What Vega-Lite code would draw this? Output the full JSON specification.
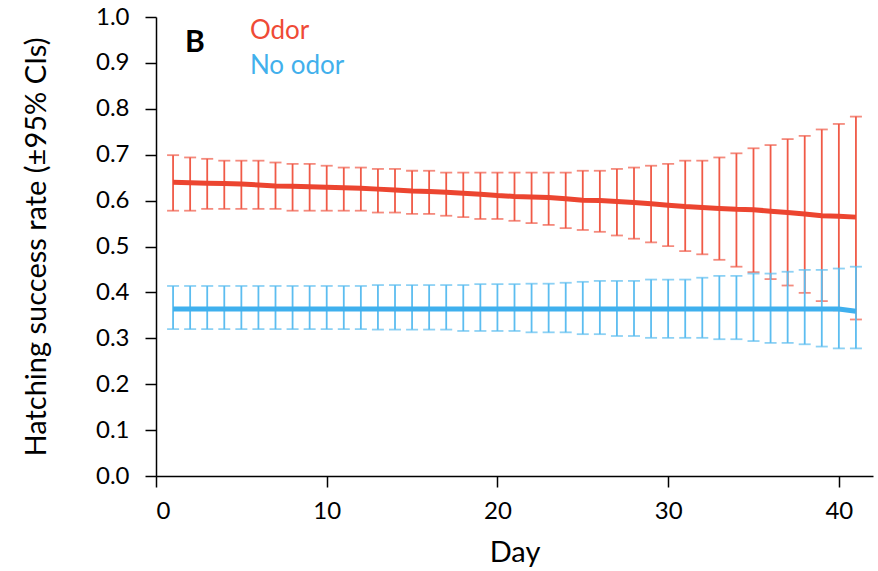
{
  "$schema": "https://vega.github.io/schema/vega-lite/v6.json",
  "width": 717,
  "height": 459,
  "autosize": {"type": "none"},
  "padding": {"left": 156, "top": 17, "right": 5, "bottom": 95},
  "background": "white",
  "config": {
    "view": {"stroke": null},
    "font": "Lato",
    "axis": {
      "grid": false,
      "domainColor": "#000000",
      "domainWidth": 1.5,
      "tickColor": "#000000",
      "tickWidth": 1.5,
      "tickSize": 11,
      "labelFont": "Lato",
      "labelFontSize": 24,
      "labelColor": "#000000",
      "titleFont": "Lato",
      "titleFontSize": 29,
      "titleFontWeight": "normal",
      "titleColor": "#000000"
    }
  },
  "datasets": {
    "ci": [
      {"day": 1, "group": "Odor", "mean": 0.640, "lo": 0.578, "hi": 0.699},
      {"day": 2, "group": "Odor", "mean": 0.639, "lo": 0.578, "hi": 0.694},
      {"day": 3, "group": "Odor", "mean": 0.638, "lo": 0.582, "hi": 0.691},
      {"day": 4, "group": "Odor", "mean": 0.637, "lo": 0.582, "hi": 0.687},
      {"day": 5, "group": "Odor", "mean": 0.636, "lo": 0.582, "hi": 0.687},
      {"day": 6, "group": "Odor", "mean": 0.634, "lo": 0.582, "hi": 0.687},
      {"day": 7, "group": "Odor", "mean": 0.632, "lo": 0.582, "hi": 0.683},
      {"day": 8, "group": "Odor", "mean": 0.631, "lo": 0.578, "hi": 0.680},
      {"day": 9, "group": "Odor", "mean": 0.630, "lo": 0.578, "hi": 0.680},
      {"day": 10, "group": "Odor", "mean": 0.629, "lo": 0.578, "hi": 0.676},
      {"day": 11, "group": "Odor", "mean": 0.628, "lo": 0.578, "hi": 0.672},
      {"day": 12, "group": "Odor", "mean": 0.627, "lo": 0.578, "hi": 0.672},
      {"day": 13, "group": "Odor", "mean": 0.625, "lo": 0.574, "hi": 0.669},
      {"day": 14, "group": "Odor", "mean": 0.623, "lo": 0.574, "hi": 0.669},
      {"day": 15, "group": "Odor", "mean": 0.621, "lo": 0.571, "hi": 0.665},
      {"day": 16, "group": "Odor", "mean": 0.620, "lo": 0.571, "hi": 0.665},
      {"day": 17, "group": "Odor", "mean": 0.618, "lo": 0.567, "hi": 0.661},
      {"day": 18, "group": "Odor", "mean": 0.616, "lo": 0.564, "hi": 0.661},
      {"day": 19, "group": "Odor", "mean": 0.614, "lo": 0.560, "hi": 0.661},
      {"day": 20, "group": "Odor", "mean": 0.611, "lo": 0.560, "hi": 0.661},
      {"day": 21, "group": "Odor", "mean": 0.609, "lo": 0.556, "hi": 0.661},
      {"day": 22, "group": "Odor", "mean": 0.608, "lo": 0.551, "hi": 0.661},
      {"day": 23, "group": "Odor", "mean": 0.607, "lo": 0.547, "hi": 0.661},
      {"day": 24, "group": "Odor", "mean": 0.604, "lo": 0.540, "hi": 0.661},
      {"day": 25, "group": "Odor", "mean": 0.601, "lo": 0.536, "hi": 0.665},
      {"day": 26, "group": "Odor", "mean": 0.600, "lo": 0.532, "hi": 0.665},
      {"day": 27, "group": "Odor", "mean": 0.598, "lo": 0.524, "hi": 0.669},
      {"day": 28, "group": "Odor", "mean": 0.596, "lo": 0.517, "hi": 0.672},
      {"day": 29, "group": "Odor", "mean": 0.593, "lo": 0.509, "hi": 0.676},
      {"day": 30, "group": "Odor", "mean": 0.590, "lo": 0.501, "hi": 0.680},
      {"day": 31, "group": "Odor", "mean": 0.587, "lo": 0.490, "hi": 0.687},
      {"day": 32, "group": "Odor", "mean": 0.585, "lo": 0.483, "hi": 0.687},
      {"day": 33, "group": "Odor", "mean": 0.583, "lo": 0.471, "hi": 0.694},
      {"day": 34, "group": "Odor", "mean": 0.581, "lo": 0.456, "hi": 0.703},
      {"day": 35, "group": "Odor", "mean": 0.580, "lo": 0.444, "hi": 0.714},
      {"day": 36, "group": "Odor", "mean": 0.577, "lo": 0.429, "hi": 0.721},
      {"day": 37, "group": "Odor", "mean": 0.574, "lo": 0.415, "hi": 0.734},
      {"day": 38, "group": "Odor", "mean": 0.571, "lo": 0.399, "hi": 0.741},
      {"day": 39, "group": "Odor", "mean": 0.567, "lo": 0.381, "hi": 0.755},
      {"day": 40, "group": "Odor", "mean": 0.566, "lo": 0.361, "hi": 0.767},
      {"day": 41, "group": "Odor", "mean": 0.564, "lo": 0.341, "hi": 0.783},
      {"day": 1, "group": "No odor", "mean": 0.364, "lo": 0.320, "hi": 0.414},
      {"day": 2, "group": "No odor", "mean": 0.364, "lo": 0.320, "hi": 0.414},
      {"day": 3, "group": "No odor", "mean": 0.364, "lo": 0.320, "hi": 0.414},
      {"day": 4, "group": "No odor", "mean": 0.364, "lo": 0.320, "hi": 0.414},
      {"day": 5, "group": "No odor", "mean": 0.364, "lo": 0.320, "hi": 0.414},
      {"day": 6, "group": "No odor", "mean": 0.364, "lo": 0.320, "hi": 0.414},
      {"day": 7, "group": "No odor", "mean": 0.364, "lo": 0.320, "hi": 0.414},
      {"day": 8, "group": "No odor", "mean": 0.364, "lo": 0.320, "hi": 0.414},
      {"day": 9, "group": "No odor", "mean": 0.364, "lo": 0.320, "hi": 0.414},
      {"day": 10, "group": "No odor", "mean": 0.364, "lo": 0.320, "hi": 0.414},
      {"day": 11, "group": "No odor", "mean": 0.364, "lo": 0.320, "hi": 0.414},
      {"day": 12, "group": "No odor", "mean": 0.364, "lo": 0.320, "hi": 0.414},
      {"day": 13, "group": "No odor", "mean": 0.364, "lo": 0.319, "hi": 0.416},
      {"day": 14, "group": "No odor", "mean": 0.364, "lo": 0.319, "hi": 0.416},
      {"day": 15, "group": "No odor", "mean": 0.364, "lo": 0.319, "hi": 0.416},
      {"day": 16, "group": "No odor", "mean": 0.364, "lo": 0.319, "hi": 0.416},
      {"day": 17, "group": "No odor", "mean": 0.364, "lo": 0.319, "hi": 0.416},
      {"day": 18, "group": "No odor", "mean": 0.364, "lo": 0.316, "hi": 0.416},
      {"day": 19, "group": "No odor", "mean": 0.364, "lo": 0.316, "hi": 0.418},
      {"day": 20, "group": "No odor", "mean": 0.364, "lo": 0.316, "hi": 0.418},
      {"day": 21, "group": "No odor", "mean": 0.364, "lo": 0.316, "hi": 0.418},
      {"day": 22, "group": "No odor", "mean": 0.364, "lo": 0.313, "hi": 0.419},
      {"day": 23, "group": "No odor", "mean": 0.364, "lo": 0.313, "hi": 0.419},
      {"day": 24, "group": "No odor", "mean": 0.364, "lo": 0.313, "hi": 0.421},
      {"day": 25, "group": "No odor", "mean": 0.364, "lo": 0.309, "hi": 0.423},
      {"day": 26, "group": "No odor", "mean": 0.364, "lo": 0.309, "hi": 0.425},
      {"day": 27, "group": "No odor", "mean": 0.364, "lo": 0.305, "hi": 0.425},
      {"day": 28, "group": "No odor", "mean": 0.364, "lo": 0.305, "hi": 0.425},
      {"day": 29, "group": "No odor", "mean": 0.364, "lo": 0.301, "hi": 0.428},
      {"day": 30, "group": "No odor", "mean": 0.364, "lo": 0.301, "hi": 0.428},
      {"day": 31, "group": "No odor", "mean": 0.364, "lo": 0.301, "hi": 0.428},
      {"day": 32, "group": "No odor", "mean": 0.364, "lo": 0.301, "hi": 0.432},
      {"day": 33, "group": "No odor", "mean": 0.364, "lo": 0.298, "hi": 0.436},
      {"day": 34, "group": "No odor", "mean": 0.364, "lo": 0.298, "hi": 0.436},
      {"day": 35, "group": "No odor", "mean": 0.364, "lo": 0.294, "hi": 0.441},
      {"day": 36, "group": "No odor", "mean": 0.364, "lo": 0.290, "hi": 0.441},
      {"day": 37, "group": "No odor", "mean": 0.364, "lo": 0.290, "hi": 0.445},
      {"day": 38, "group": "No odor", "mean": 0.364, "lo": 0.287, "hi": 0.449},
      {"day": 39, "group": "No odor", "mean": 0.364, "lo": 0.282, "hi": 0.449},
      {"day": 40, "group": "No odor", "mean": 0.364, "lo": 0.278, "hi": 0.452},
      {"day": 41, "group": "No odor", "mean": 0.359, "lo": 0.278, "hi": 0.456}
    ],
    "labels": [
      {"day": 5.5, "value": 0.952, "text": "Odor", "group": "Odor"},
      {"day": 5.5, "value": 0.876, "text": "No odor", "group": "No odor"}
    ],
    "panel": [
      {"day": 1.7, "value": 0.924, "text": "B"}
    ]
  },
  "encoding": {
    "x": {
      "field": "day",
      "type": "quantitative",
      "scale": {"domain": [0, 42], "nice": false, "zero": false},
      "axis": {"values": [0, 10, 20, 30, 40], "title": "Day", "labelPadding": 12, "titlePadding": 15}
    }
  },
  "layer": [
    {
      "data": {"name": "ci"},
      "transform": [{"filter": "datum.group === 'Odor'"}],
      "layer": [
        {
          "mark": {"type": "rule", "color": "#f05a47", "strokeWidth": 1.8},
          "encoding": {
            "y": {"field": "lo", "type": "quantitative", "scale": {"domain": [0, 1], "nice": false},
              "axis": {"values": [0, 0.1, 0.2, 0.3, 0.4, 0.5, 0.6, 0.7, 0.8, 0.9, 1.0], "format": ".1f", "title": "Hatching success rate (±95% CIs)", "labelPadding": 16, "titlePadding": 44}},
            "y2": {"field": "hi"}
          }
        },
        {
          "mark": {"type": "tick", "color": "#f05a47", "orient": "horizontal", "size": 12, "thickness": 1.8},
          "encoding": {"y": {"field": "hi", "type": "quantitative"}}
        },
        {
          "mark": {"type": "tick", "color": "#f05a47", "orient": "horizontal", "size": 12, "thickness": 1.8},
          "encoding": {"y": {"field": "lo", "type": "quantitative"}}
        },
        {
          "mark": {"type": "line", "color": "#ec4530", "strokeWidth": 5},
          "encoding": {"y": {"field": "mean", "type": "quantitative"}}
        }
      ]
    },
    {
      "data": {"name": "ci"},
      "transform": [{"filter": "datum.group === 'No odor'"}],
      "layer": [
        {
          "mark": {"type": "rule", "color": "#5cbdf0", "strokeWidth": 1.8},
          "encoding": {
            "y": {"field": "lo", "type": "quantitative"},
            "y2": {"field": "hi"}
          }
        },
        {
          "mark": {"type": "tick", "color": "#5cbdf0", "orient": "horizontal", "size": 12, "thickness": 1.8},
          "encoding": {"y": {"field": "hi", "type": "quantitative"}}
        },
        {
          "mark": {"type": "tick", "color": "#5cbdf0", "orient": "horizontal", "size": 12, "thickness": 1.8},
          "encoding": {"y": {"field": "lo", "type": "quantitative"}}
        },
        {
          "mark": {"type": "line", "color": "#3fb0ee", "strokeWidth": 5},
          "encoding": {"y": {"field": "mean", "type": "quantitative"}}
        }
      ]
    },
    {
      "data": {"name": "labels"},
      "mark": {"type": "text", "align": "left", "baseline": "alphabetic", "fontSize": 26, "font": "Lato"},
      "encoding": {
        "y": {"field": "value", "type": "quantitative"},
        "text": {"field": "text"},
        "color": {"field": "group", "type": "nominal", "scale": {"domain": ["Odor", "No odor"], "range": ["#ef4a36", "#42b0ec"]}, "legend": null}
      }
    },
    {
      "data": {"name": "panel"},
      "mark": {"type": "text", "align": "left", "baseline": "alphabetic", "fontSize": 30, "fontWeight": "bold", "font": "Lato", "color": "#000000"},
      "encoding": {
        "y": {"field": "value", "type": "quantitative"},
        "text": {"field": "text"}
      }
    }
  ]
}
